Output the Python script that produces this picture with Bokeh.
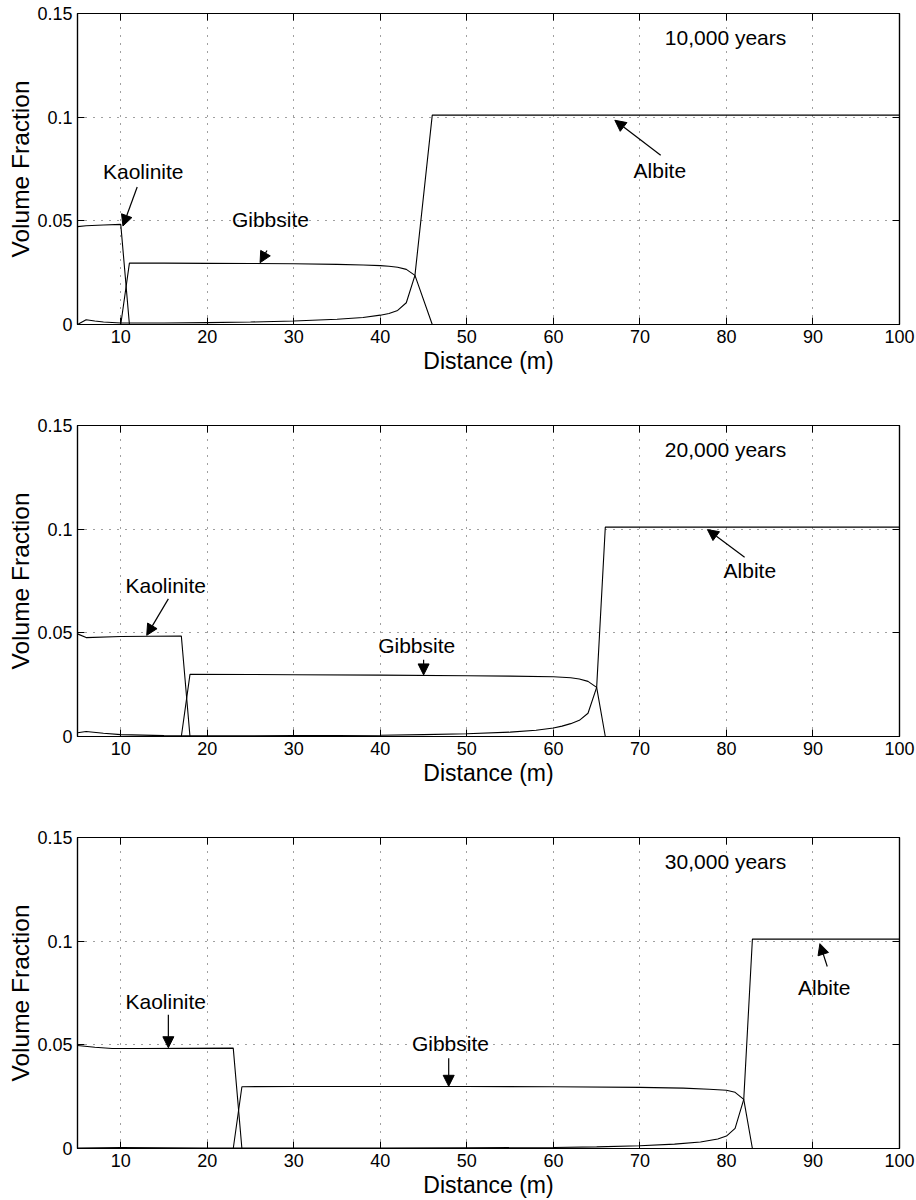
from bokeh.plotting import figure
from bokeh.models import FixedTicker, LinearAxis, Arrow, NormalHead, Label, Range1d
from bokeh.layouts import column
from bokeh.embed import file_html
from bokeh.resources import INLINE

FONT = "Liberation Sans"

# ---------------- data ----------------
X_TICKS = [10, 20, 30, 40, 50, 60, 70, 80, 90, 100]
Y_TICKS = [0.0, 0.05, 0.1, 0.15]
Y_TICK_LABELS = {0.0: "0", 0.05: "0.05", 0.1: "0.1", 0.15: "0.15"}

# 10,000 years
KAO1_X = [5, 6, 8, 10, 11, 100]
KAO1_Y = [0.0472, 0.0476, 0.0480, 0.0483, 0.0, 0.0]
GIB1_X = [5, 10, 11, 15, 20, 25, 30, 35, 38, 40, 41, 42, 43, 44, 46, 100]
GIB1_Y = [0.0, 0.0, 0.0296, 0.0296, 0.0295, 0.0294, 0.0293, 0.0290, 0.0287,
          0.0284, 0.0281, 0.0276, 0.0266, 0.0237, 0.0, 0.0]
ALB1_X = [5, 6, 7, 8, 10, 15, 20, 25, 30, 35, 38, 40, 41, 42, 43, 44, 46, 100]
ALB1_Y = [0.0, 0.0023, 0.0017, 0.0012, 0.0007, 0.0007, 0.0009, 0.0012, 0.0017,
          0.0025, 0.0034, 0.0045, 0.0053, 0.0068, 0.0105, 0.0237, 0.101, 0.101]

# 20,000 years
KAO2_X = [5, 6, 10, 17, 18, 100]
KAO2_Y = [0.0495, 0.0477, 0.0482, 0.0485, 0.0, 0.0]
GIB2_X = [5, 17, 18, 25, 30, 40, 50, 55, 60, 62, 63, 64, 65, 66, 100]
GIB2_Y = [0.0, 0.0, 0.0300, 0.0299, 0.0298, 0.0296, 0.0293, 0.0291, 0.0288,
          0.0283, 0.0277, 0.0266, 0.0237, 0.0, 0.0]
ALB2_X = [5, 6, 8, 10, 15, 20, 30, 40, 45, 50, 55, 58, 60, 61, 62, 63, 64, 65, 66, 100]
ALB2_Y = [0.0018, 0.0024, 0.0016, 0.0009, 0.0004, 0.0003, 0.0004, 0.0006, 0.0009,
          0.0013, 0.0021, 0.0030, 0.0041, 0.0050, 0.0062, 0.0078, 0.0112, 0.0237,
          0.101, 0.101]

# 30,000 years
KAO3_X = [5, 7, 9, 12, 23, 24, 100]
KAO3_Y = [0.0497, 0.0488, 0.0482, 0.0482, 0.0484, 0.0, 0.0]
GIB3_X = [5, 23, 24, 30, 40, 50, 60, 70, 75, 78, 80, 81, 82, 83, 100]
GIB3_Y = [0.0, 0.0, 0.0298, 0.0299, 0.0299, 0.0299, 0.0298, 0.0295, 0.0291,
          0.0286, 0.0281, 0.0271, 0.0237, 0.0, 0.0]
ALB3_X = [5, 10, 20, 30, 40, 50, 60, 65, 70, 74, 77, 79, 80, 81, 82, 83, 100]
ALB3_Y = [0.0002, 0.0004, 0.0002, 0.0002, 0.0002, 0.0003, 0.0005, 0.0008, 0.0013,
          0.0021, 0.0031, 0.0046, 0.0060, 0.0097, 0.0237, 0.101, 0.101]

YEARS = ["10,000 years", "20,000 years", "30,000 years"]

# annotations: (text, label x, label y, arrow x0, y0, x1, y1)
ANN1 = [("Kaolinite", 12.6, 0.0740, 11.9, 0.0663, 10.25, 0.0475),
        ("Gibbsite", 27.3, 0.0508, 26.9, 0.0357, 26.1, 0.0298),
        ("Albite", 72.3, 0.0745, 72.4, 0.0816, 67.1, 0.0985)]
ANN2 = [("Kaolinite", 15.2, 0.0727, 15.5, 0.0664, 13.0, 0.0488),
        ("Gibbsite", 44.2, 0.0440, 45.0, 0.0370, 45.0, 0.0297),
        ("Albite", 82.7, 0.0803, 82.1, 0.0865, 77.8, 0.0998)]
ANN3 = [("Kaolinite", 15.2, 0.0708, 15.5, 0.0645, 15.5, 0.0486),
        ("Gibbsite", 48.1, 0.0507, 47.9, 0.0435, 47.9, 0.0300),
        ("Albite", 91.3, 0.0777, 91.65, 0.0878, 90.8, 0.0988)]


def blank_axis(ticks):
    return LinearAxis(ticker=FixedTicker(ticks=ticks), major_label_text_font_size="0px",
                      major_label_text_color=None, major_label_standoff=0,
                      major_tick_in=7, major_tick_out=0, minor_tick_line_color=None,
                      axis_line_color="black", axis_line_width=1.2)


def make_panel(series, years, ann, height, b_top, b_bot):
    p = figure(width=916, height=height, x_range=Range1d(5, 100), y_range=Range1d(0, 0.15),
               output_backend="svg", toolbar_location=None,
               min_border_left=77, min_border_right=17,
               min_border_top=b_top, min_border_bottom=b_bot)
    p.background_fill_color = "white"
    p.border_fill_color = "white"
    p.outline_line_color = "black"
    p.outline_line_width = 1.2

    for xs, ys in series:
        p.line(xs, ys, line_color="black", line_width=1.1)

    # axes
    p.xaxis.ticker = FixedTicker(ticks=X_TICKS)
    p.yaxis.ticker = FixedTicker(ticks=Y_TICKS)
    p.yaxis.major_label_overrides = Y_TICK_LABELS
    for ax in (p.xaxis[0], p.yaxis[0]):
        ax.major_tick_in = 7
        ax.major_tick_out = 0
        ax.minor_tick_line_color = None
        ax.axis_line_color = "black"
        ax.axis_line_width = 1.2
        ax.major_tick_line_color = "black"
        ax.major_label_text_font = FONT
        ax.major_label_text_font_size = "18px"
        ax.major_label_text_color = "black"
        ax.axis_label_text_font = FONT
        ax.axis_label_text_font_style = "normal"
        ax.axis_label_text_color = "black"
    p.xaxis.axis_label = "Distance (m)"
    p.xaxis.axis_label_text_font_size = "23px"
    p.xaxis.major_label_standoff = 5
    p.xaxis.axis_label_standoff = 2
    p.yaxis.axis_label = "Volume Fraction"
    p.yaxis.axis_label_text_font_size = "24.5px"
    p.yaxis.major_label_standoff = 5
    p.yaxis.axis_label_standoff = 0

    p.add_layout(blank_axis(X_TICKS), "above")
    p.add_layout(blank_axis(Y_TICKS), "right")

    # grid
    p.xgrid.ticker = FixedTicker(ticks=X_TICKS)
    p.ygrid.ticker = FixedTicker(ticks=Y_TICKS)
    for g in (p.xgrid[0], p.ygrid[0]):
        g.grid_line_color = "black"
        g.grid_line_alpha = 0.75
        g.grid_line_dash = "1 7"
        g.grid_line_width = 1

    # annotations
    p.add_layout(Label(x=79.9, y=0.1385, text=years, text_font=FONT,
                       text_font_size="21px", text_align="center",
                       text_baseline="middle", text_color="black"))
    for text, lx, ly, x0, y0, x1, y1 in ann:
        p.add_layout(Label(x=lx, y=ly, text=text, text_font=FONT, text_font_size="21px",
                           text_align="center", text_baseline="middle", text_color="black"))
        p.add_layout(Arrow(end=NormalHead(size=11, fill_color="black", line_color="black",
                                          line_width=1),
                           x_start=x0, y_start=y0, x_end=x1, y_end=y1,
                           line_color="black", line_width=1.2))
    return p


p1 = make_panel([(KAO1_X, KAO1_Y), (GIB1_X, GIB1_Y), (ALB1_X, ALB1_Y)], YEARS[0], ANN1,
                413, 13, 89)
p2 = make_panel([(KAO2_X, KAO2_Y), (GIB2_X, GIB2_Y), (ALB2_X, ALB2_Y)], YEARS[1], ANN2,
                412, 12, 89)
p3 = make_panel([(KAO3_X, KAO3_Y), (GIB3_X, GIB3_Y), (ALB3_X, ALB3_Y)], YEARS[2], ANN3,
                375, 12, 52)

layout = column(p1, p2, p3, spacing=0)
open("out.html", "w").write(file_html(layout, INLINE))
